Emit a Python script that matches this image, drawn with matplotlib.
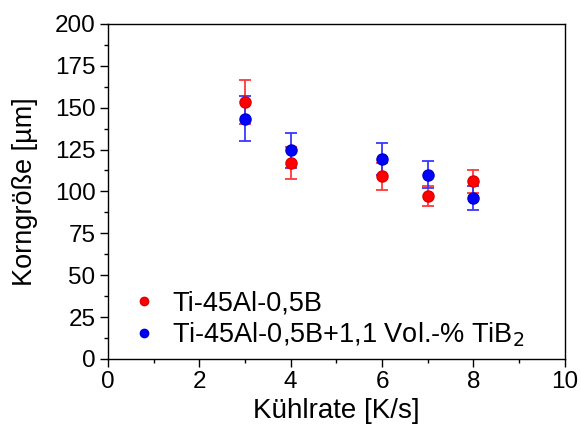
import numpy as np
import matplotlib
matplotlib.use("Agg")
import matplotlib.pyplot as plt
from matplotlib.ticker import MultipleLocator

plt.rcParams['font.family'] = ['Liberation Sans', 'DejaVu Sans']

# Kühlrate in K/s
x = [3, 4, 6, 7, 8]
# Ti-45Al-0,5B
rot = [153.5, 117, 109, 97, 106]
rot_err = [13, 9.5, 8, 6, 7]
# Ti-45Al-0,5B+1,1 Vol.-% TiB2
blau = [143.5, 124.5, 119.5, 110, 96]
blau_err = [13.5, 10.5, 9.5, 8, 7]

fig = plt.figure(figsize=(5.81, 4.34), dpi=100)
ax = fig.add_axes([0.186, 0.173, 0.786, 0.772])

ax.errorbar(x, rot, yerr=rot_err, fmt='o', color='#ff0000', ecolor='#ff3838',
            markersize=8, capsize=4, elinewidth=1.3, capthick=1.3,
            markeredgecolor='#e00000', label='Ti-45Al-0,5B', zorder=3)
ax.errorbar(x, blau, yerr=blau_err, fmt='o', color='#0000ff', ecolor='#3838ff',
            markersize=8, capsize=4, elinewidth=1.3, capthick=1.3,
            markeredgecolor='#0000d0', label='Ti-45Al-0,5B+1,1 Vol.-% TiB$_2$', zorder=3)

ax.set_xlim(0, 10)
ax.set_ylim(0, 200)
ax.xaxis.set_major_locator(MultipleLocator(2))
ax.xaxis.set_minor_locator(MultipleLocator(1))
ax.yaxis.set_major_locator(MultipleLocator(25))
ax.yaxis.set_minor_locator(MultipleLocator(12.5))
ax.tick_params(which='major', direction='out', length=6, width=1, labelsize=17.5, pad=3)
ax.tick_params(which='minor', direction='out', length=3, width=1)
for s in ax.spines.values():
    s.set_linewidth(1)

ax.set_xlabel('Kühlrate [K/s]', fontsize=20, labelpad=3)
ax.set_ylabel('Korngröße [µm]', fontsize=19.5, labelpad=12)

# Legende ohne Rahmen, Fehlerbalken im Legendensymbol ausblenden
handles, labels = ax.get_legend_handles_labels()
handles = [h[0] for h in handles]
ax.legend(handles, labels, loc='lower left', bbox_to_anchor=(-0.005, -0.02),
          frameon=False, fontsize=19.5, markerscale=0.75,
          handletextpad=0.25, handlelength=1.6, borderaxespad=0.2, labelspacing=0.15)

fig.savefig('out.png', dpi=100)
